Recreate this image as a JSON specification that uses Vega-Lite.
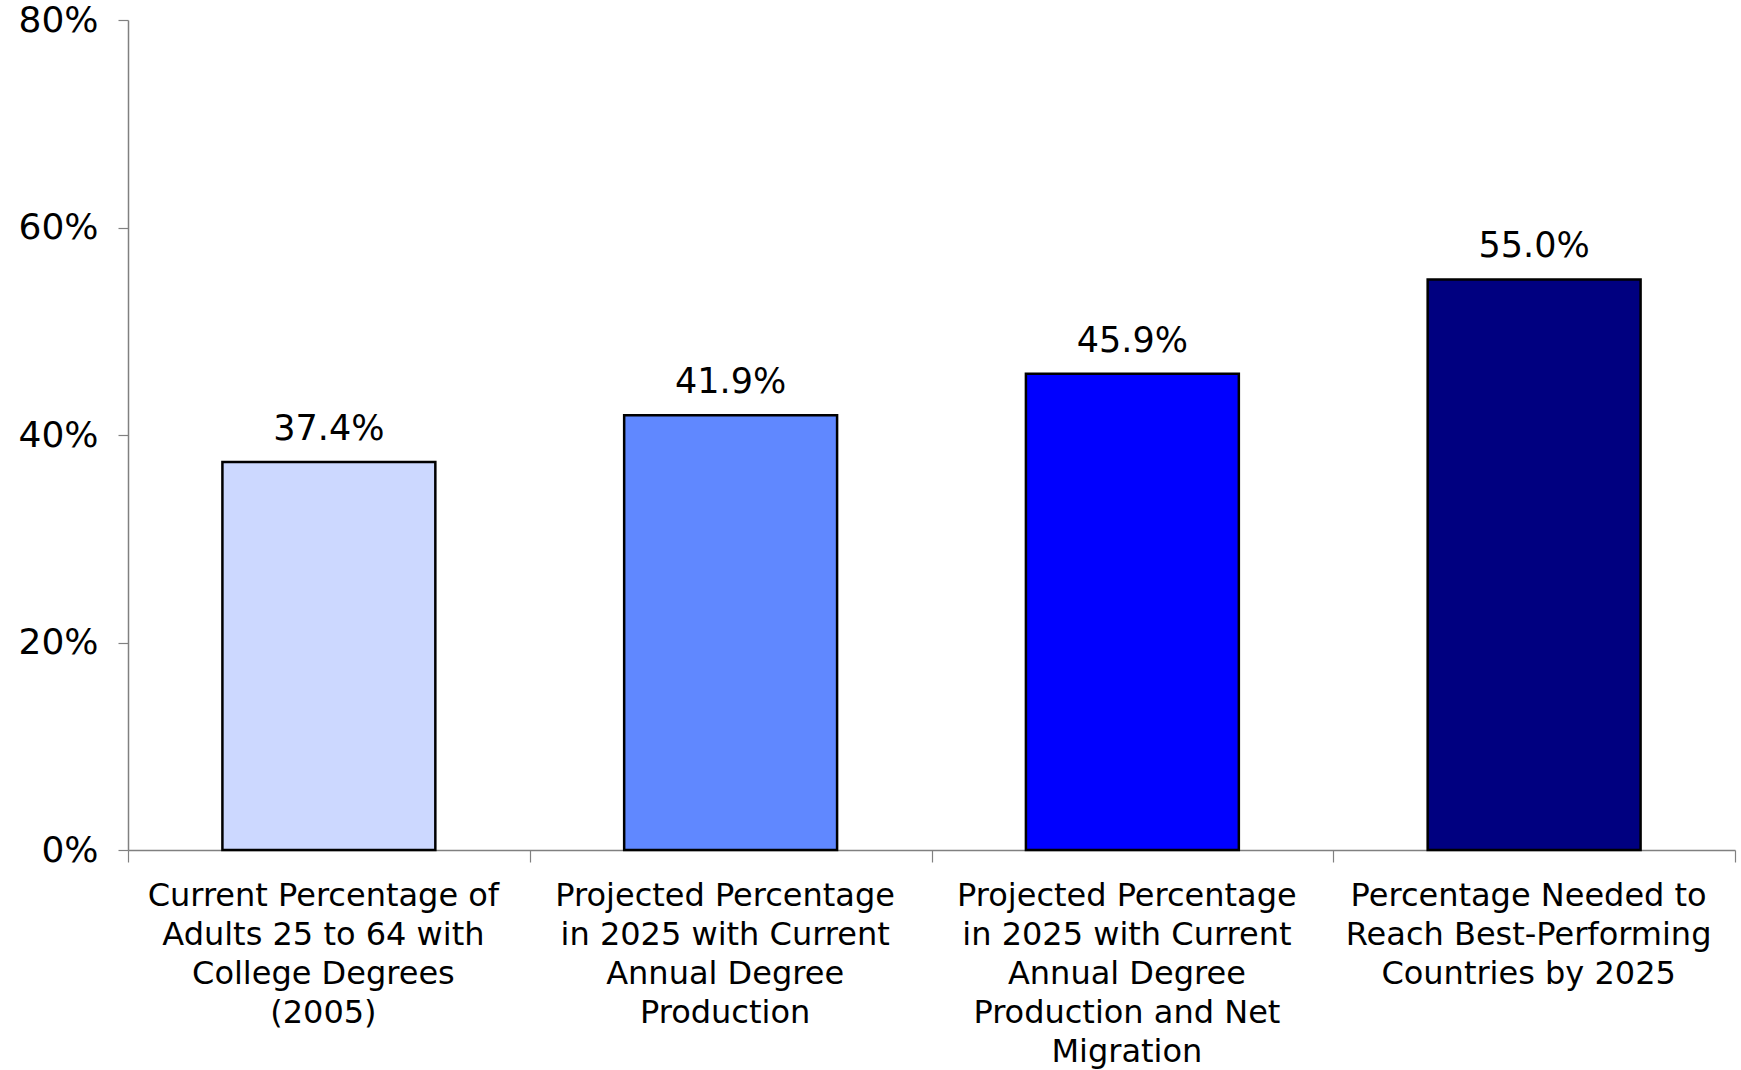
{
  "$schema": "https://vega.github.io/schema/vega-lite/v6.json",
  "autosize": {"type": "none"},
  "width": 1607,
  "height": 830,
  "padding": {"left": 128, "top": 20, "right": 6, "bottom": 220},
  "background": "white",
  "config": {"view": {"stroke": null}},
  "data": {
    "values": [
      {"category": "Current Percentage of\nAdults 25 to 64 with\nCollege Degrees\n(2005)", "value": 0.374, "color": "#CCD8FF"},
      {"category": "Projected Percentage\nin 2025 with Current\nAnnual Degree\nProduction", "value": 0.419, "color": "#6088FF"},
      {"category": "Projected Percentage\nin 2025 with Current\nAnnual Degree\nProduction and Net\nMigration", "value": 0.459, "color": "#0000FF"},
      {"category": "Percentage Needed to\nReach Best-Performing\nCountries by 2025", "value": 0.55, "color": "#000080"}
    ]
  },
  "encoding": {
    "x": {
      "field": "category",
      "type": "nominal",
      "sort": null,
      "scale": {"paddingInner": 0, "paddingOuter": 0},
      "axis": {
        "title": null,
        "labelAngle": 0,
        "labelExpr": "isValid(datum.value) ? split(datum.value, '\\n') : ''",
        "labelFont": "DejaVu Sans",
        "labelFontSize": 32,
        "labelLineHeight": 39,
        "labelLimit": 0,
        "labelColor": "black",
        "labelPadding": 18,
        "labelOffset": -6,
        "labelBaseline": "top",
        "tickBand": "extent",
        "tickSize": 12,
        "tickColor": "#808080",
        "domainColor": "#808080",
        "domainWidth": 1.5,
        "tickWidth": 1.2
      }
    },
    "y": {
      "field": "value",
      "type": "quantitative",
      "scale": {"domain": [0, 0.8], "nice": false},
      "axis": {
        "title": null,
        "values": [0, 0.2, 0.4, 0.6, 0.8],
        "format": ".0%",
        "labelFont": "DejaVu Sans",
        "labelFontSize": 36,
        "labelColor": "black",
        "labelPadding": 20,
        "tickSize": 10,
        "tickColor": "#808080",
        "domainColor": "#808080",
        "domainWidth": 1.5,
        "tickWidth": 1.2,
        "grid": false
      }
    }
  },
  "layer": [
    {
      "mark": {"type": "bar", "stroke": "black", "strokeWidth": 2.5, "width": {"band": 0.53}},
      "encoding": {
        "color": {"field": "color", "type": "nominal", "scale": null, "legend": null}
      }
    },
    {
      "mark": {"type": "text", "dy": -22, "baseline": "alphabetic", "font": "DejaVu Sans", "fontSize": 35, "color": "black"},
      "encoding": {
        "text": {"field": "value", "type": "quantitative", "format": ".1%"}
      }
    }
  ]
}
